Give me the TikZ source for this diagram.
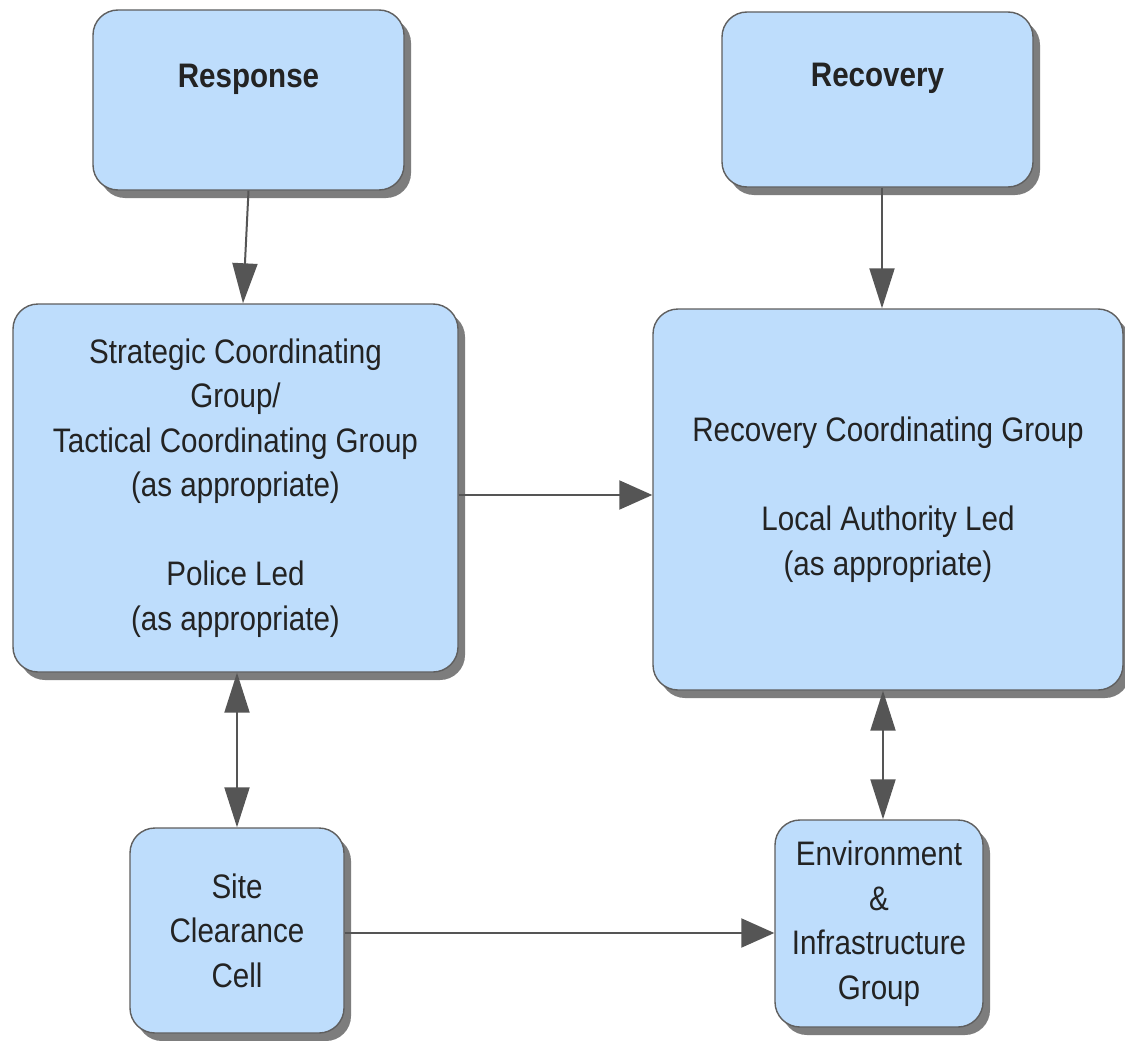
\documentclass[tikz,border=0pt]{standalone}
\usepackage{fontspec}
\setmainfont{Liberation Sans}
\newfontfamily\tallfont{Liberation Sans}[FakeStretch=0.87]
\usetikzlibrary{arrows.meta,shadows}
\definecolor{boxfill}{RGB}{190,221,252}
\definecolor{boxline}{RGB}{95,95,95}
\definecolor{shadowgray}{RGB}{125,125,125}
\definecolor{arrowgray}{RGB}{85,85,85}
\definecolor{txt}{RGB}{35,35,35}
\tikzset{
  box/.style={draw=boxline, line width=1.4pt, fill=boxfill, rounded corners=25pt,
    align=center, text=txt, inner sep=0pt,
    font=\tallfont\fontsize{34}{44.5}\selectfont,
    drop shadow={shadow xshift=7pt, shadow yshift=-8pt, opacity=1, fill=shadowgray, draw=none}},
  headbox/.style={box, font=\tallfont\fontsize{34}{44.5}\selectfont\bfseries, text height=24pt, text depth=49pt},
  arr/.style={draw=arrowgray, line width=2pt, -{Triangle[length=40pt,width=25pt]}},
  darr/.style={draw=arrowgray, line width=2pt, {Triangle[length=40pt,width=25pt]}-{Triangle[length=40pt,width=25pt]}},
  harr/.style={draw=arrowgray, line width=2pt, -{Triangle[length=33pt,width=29pt]}}
}
\begin{document}
\begin{tikzpicture}[x=1pt,y=-1pt]
\useasboundingbox[fill=white] (0,0) rectangle (1125,1041);
\node[headbox, minimum width=311pt, minimum height=180pt] (resp) at (248.5,100) {Response};
\node[headbox, minimum width=311pt, minimum height=175pt] (rec) at (877.5,99.5) {Recovery};
\node[box, minimum width=445pt, minimum height=368pt] (sc) at (235.5,488)
  {Strategic Coordinating\\Group/\\Tactical Coordinating Group\\(as appropriate)\\[44.5pt]Police Led\\(as appropriate)};
\node[box, minimum width=470pt, minimum height=381pt] (rc) at (888,499.5)
  {Recovery Coordinating Group\\[44.5pt]Local Authority Led\\(as appropriate)};
\node[box, minimum width=214pt, minimum height=205pt] (site) at (237,930.5)
  {Site\\Clearance\\Cell};
\node[box, minimum width=208pt, minimum height=207pt] (env) at (879,923.5)
  {Environment\\\&\\Infrastructure\\Group};
% connectors
\draw[arr] (resp.south) -- ([xshift=7.5pt]sc.north);
\draw[arr] ([xshift=4.5pt]rec.south) -- ([xshift=-6pt]rc.north);
\coordinate (t1) at ([yshift=-7pt]sc.east);
\draw[harr] (t1) -- (t1 -| rc.west);
\draw[darr] (site.north |- sc.south) -- (site.north);
\coordinate (t2) at ([xshift=4pt]env.north);
\draw[darr] (t2 |- rc.south) -- (t2);
\coordinate (t3) at ([yshift=-2.5pt]site.east);
\draw[harr] (t3) -- (t3 -| env.west);
\end{tikzpicture}
\end{document}
